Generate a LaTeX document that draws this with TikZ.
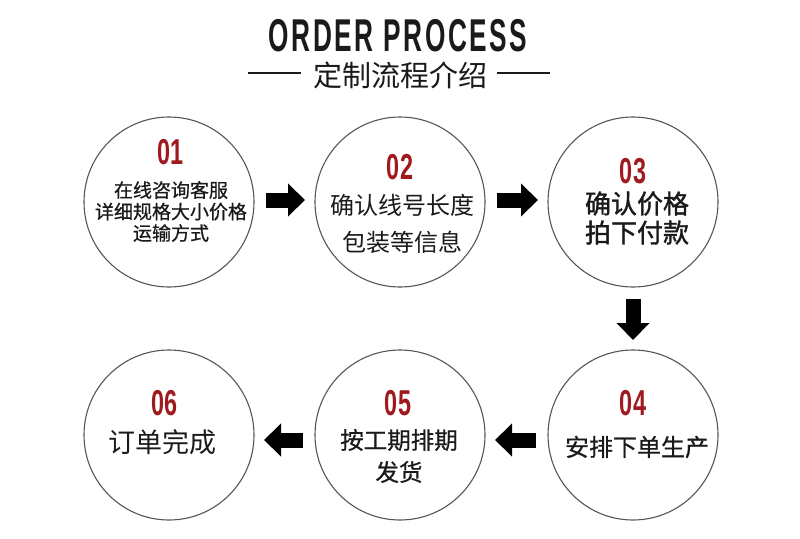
\documentclass[tikz,border=0pt]{standalone}
\usepackage{fontspec}
\usepackage{graphicx}
\usepackage{xcolor}
\usetikzlibrary{arrows.meta}
\setmainfont{Liberation Sans}
\newfontfamily\cjk{Noto Sans CJK SC}
\newfontfamily\cjkmid{Noto Sans CJK SC}[FakeBold=0.7]
\newfontfamily\cjkbold{Noto Sans CJK SC}[FakeBold=1.4]
\newfontfamily\headfont{Liberation Sans}[LetterSpace=10]
\definecolor{vred}{HTML}{9e1a1e}
\definecolor{vdarkgray}{HTML}{1a1a1a}
\definecolor{vgray}{HTML}{555555}
\newcommand{\cond}[1]{\scalebox{0.65}[1]{#1}}

\begin{document}
\begin{tikzpicture}[x=1pt, y=-1pt,
		stage/.style={draw=vgray, line width=1.1pt, circle, minimum size=170pt, inner sep=0pt, outer sep=0pt},
		num/.style={text=vred, font=\bfseries\fontsize{36}{36}\selectfont, inner sep=0pt},
		desc/.style={text=vdarkgray, align=center, inner sep=0pt},
		flow/.style={draw=black, line width=15pt, -{Triangle[width=32pt, length=17pt]}, shorten <=12pt, shorten >=10pt},
		rule/.style={draw=vdarkgray, line width=1.8pt}]
		\fill[white] (0,0) rectangle (800,538);
		\useasboundingbox (0,0) rectangle (800,538);
		% title
		\node[desc, font=\headfont\bfseries\fontsize{46}{46}\selectfont] (title) at (398,36) {\scalebox{0.57}[1]{ORDER PROCESS}};
		\node[desc, font=\cjk\fontsize{29}{29}\selectfont] (sub) at (400,75) {定制流程介绍};
		\draw[rule] ([xshift=-12pt, yshift=2pt]sub.west) -- ++(-53,0);
		\draw[rule] ([xshift=10pt, yshift=2pt]sub.east) -- ++(53,0);
		% steps
		\node[stage] (s1) at (169,202) {};
		\node[stage] (s2) at (400,202) {};
		\node[stage] (s3) at (633,202) {};
		\node[stage] (s4) at (633,435) {};
		\node[stage] (s5) at (400,435) {};
		\node[stage] (s6) at (169,435) {};
		\node[num] (n1) at (171,152) {\cond{01}};
		\node[num] (n2) at (400,167) {\cond{02}};
		\node[num] (n3) at (633,171) {\cond{03}};
		\node[num] (n4) at (633,403) {\cond{04}};
		\node[num] (n5) at (398,403) {\cond{05}};
		\node[num] (n6) at (165,403) {\cond{06}};
		\node[desc, font=\cjkmid\fontsize{19}{21.5}\selectfont] (t1) at (171,211.5) {在线咨询客服\\详细规格大小价格\\运输方式};
		\node[desc, font=\cjk\fontsize{24}{37}\selectfont] (t2) at (402,223.5) {确认线号长度\\包装等信息};
		\node[desc, font=\cjkbold\fontsize{26}{29}\selectfont] (t3) at (637,218) {确认价格\\拍下付款};
		\node[desc, font=\cjkmid\fontsize{24}{24}\selectfont] (t4) at (637,447) {安排下单生产};
		\node[desc, font=\cjkmid\fontsize{23.5}{32}\selectfont] (t5) at (399,456) {按工期排期\\发货};
		\node[desc, font=\cjk\fontsize{27}{27}\selectfont] (t6) at (162,442) {订单完成};
		% arrows
		\draw[flow] ([yshift=2pt]s1.east) -- ([yshift=2pt]s2.west);
		\draw[flow] ([yshift=2pt]s2.east) -- ([yshift=2pt]s3.west);
		\draw[flow] (s3) -- (s4);
		\draw[flow] ([yshift=-5pt]s4.west) -- ([yshift=-5pt]s5.east);
		\draw[flow] ([yshift=-5pt]s5.west) -- ([yshift=-5pt]s6.east);
	\end{tikzpicture}
\end{document}
